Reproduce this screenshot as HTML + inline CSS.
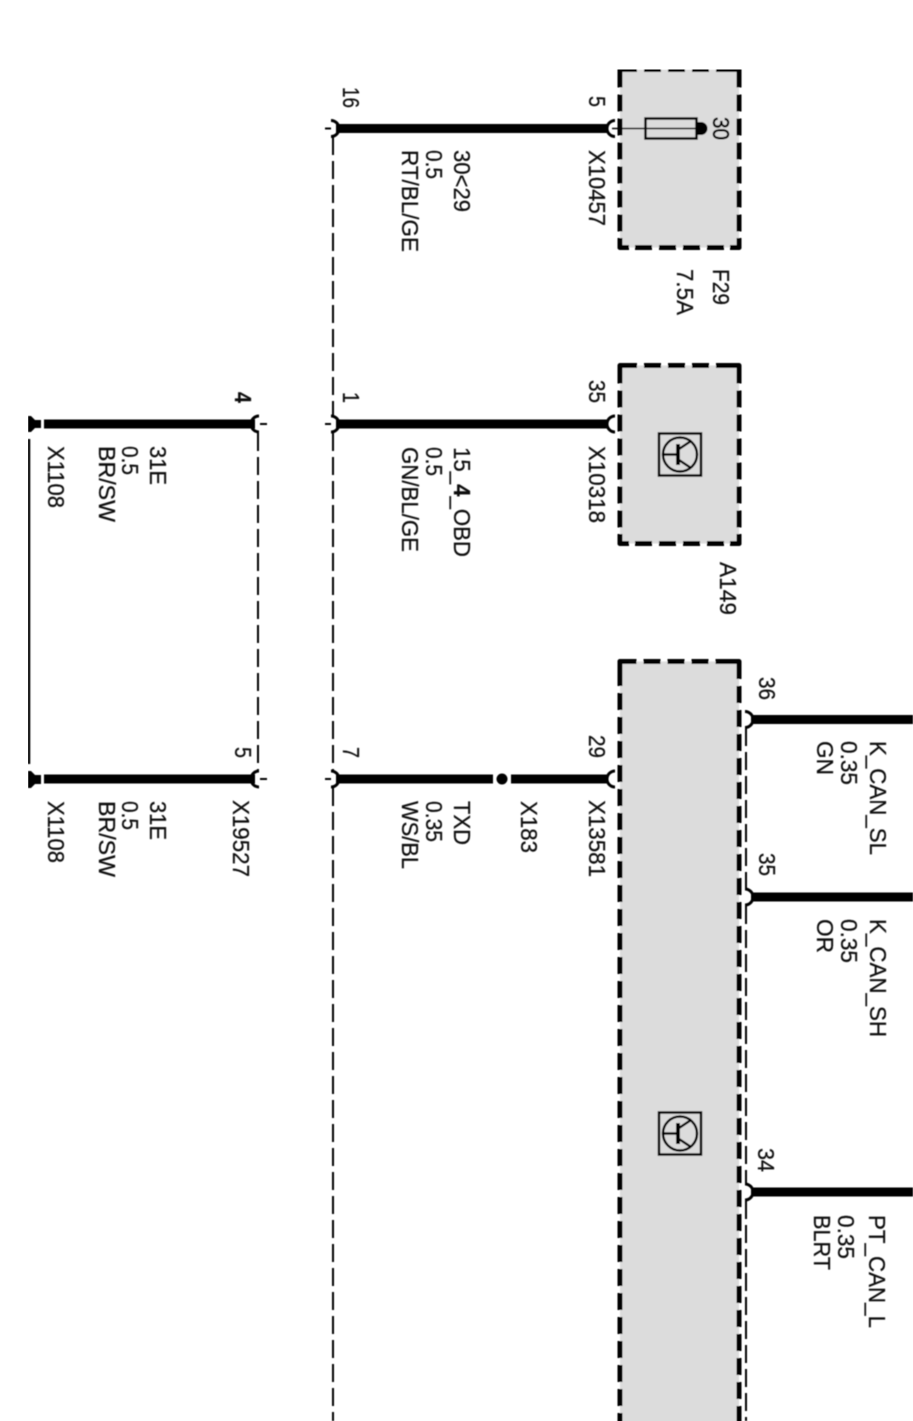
<!DOCTYPE html>
<html><head><meta charset="utf-8"><style>
html,body{margin:0;padding:0;background:#fff;width:913px;height:1421px;overflow:hidden}
svg{display:block}
text{font-family:"Liberation Sans",sans-serif;font-size:23px;fill:#111;stroke:#111;stroke-width:.25}
.w{stroke:#000;stroke-width:9;fill:none}
.t{stroke:#000;stroke-width:2;fill:none;stroke-dasharray:18 6}
.b{fill:#dcdcdc;stroke:#000;stroke-width:5;stroke-dasharray:17 7;stroke-linejoin:round}
.c{fill:none;stroke:#000;stroke-width:5;stroke-linejoin:round}
.a{stroke:#000;stroke-width:3;fill:none}
.s{stroke:#000;stroke-width:2.500;fill:none}
</style></head><body>
<svg width="913" height="1421" viewBox="0 0 913 1421" xmlns="http://www.w3.org/2000/svg">
<defs><filter id="f" x="0" y="0" width="100%" height="100%"><feGaussianBlur stdDeviation="0.45"/></filter></defs>
<g filter="url(#f)">
<!-- boxes -->
<rect class="b" x="620" y="69.500" width="119" height="178"/>
<path class="c" d="M620 78V69.500H629M730 69.500H739V78M739 238V247.500H730M629 247.500H620V238"/>
<rect class="b" x="620" y="365.500" width="119" height="178"/>
<path class="c" d="M620 374V365.500H629M730 365.500H739V374M739 534V543.500H730M629 543.500H620V534"/>
<path class="b" d="M620 1430V661.500H739V1430"/>
<path class="c" d="M620 670V661.500H629M730 661.500H739V670"/>
<!-- thin dashed -->
<path class="t" d="M333 137V415"/>
<path class="t" d="M333 433V770"/>
<path class="t" d="M333 788V1421"/>
<path class="t" d="M258 433V770"/>
<path class="t" d="M746 728V888"/>
<path class="t" d="M746 906V1183"/>
<path class="t" d="M746 1201V1421"/>
<path d="M29 439V764" stroke="#000" stroke-width="2.500"/>
<!-- thick wires -->
<path class="w" d="M336 128.500H608"/>
<path class="w" d="M336 424H608"/>
<path class="w" d="M336 779H493M511 779H608"/>
<path class="w" d="M44 424H255"/>
<path class="w" d="M44 779H255"/>
<path class="w" d="M751 719.500H913"/>
<path class="w" d="M751 897H913"/>
<path class="w" d="M751 1192H913"/>
<circle cx="502" cy="779" r="5.500" fill="#000"/>
<!-- terminals -->
<path class="a" d="M615 120.500A8 8 0 0 0 615 136.500"/>
<path class="a" d="M615 416A8 8 0 0 0 615 432"/>
<path class="a" d="M615 771A8 8 0 0 0 615 787"/>
<path class="a" d="M331 120.500A8 8 0 0 1 331 136.500"/>
<path class="a" d="M331 416A8 8 0 0 1 331 432"/>
<path class="a" d="M331 771A8 8 0 0 1 331 787"/>
<path class="a" d="M259 416A8 8 0 0 0 259 432"/>
<path class="a" d="M259 771A8 8 0 0 0 259 787"/>
<path class="a" d="M745 711.500A8 8 0 0 1 745 727.500"/>
<path class="a" d="M745 889A8 8 0 0 1 745 905"/>
<path class="a" d="M745 1184A8 8 0 0 1 745 1200"/>
<path d="M325 128.500h6M325 424h6M325 779h6M260 424h7M260 779h7" stroke="#000" stroke-width="2"/>
<!-- grounds -->
<path d="M28 416h3l4 4h6v8h-6l-4 4h-3z" fill="#000"/>
<path d="M28 771h3l4 4h6v9h-6l-4 4h-3z" fill="#000"/>
<!-- fuse -->
<rect x="645.500" y="118.500" width="51" height="20" fill="#dcdcdc" stroke="#000" stroke-width="2.500"/>
<path d="M612 128.500H699" stroke="#000" stroke-width="1.500"/>
<path d="M697 122h4a6.500 6.500 0 0 1 0 13h-4z" fill="#000"/>
<!-- transistors -->
<g>
<rect x="659" y="433.500" width="42" height="42" class="s"/>
<circle cx="680" cy="454.500" r="17" class="s"/>
<path d="M663 454.500H677" class="s"/>
<path d="M678 444V465" stroke="#000" stroke-width="4"/>
<path d="M679 449L691 441M679 460L691 468" class="s"/>
</g>
<g>
<rect x="659" y="1112.500" width="42" height="42" class="s"/>
<circle cx="680" cy="1133.500" r="17" class="s"/>
<path d="M663 1133.500H677" class="s"/>
<path d="M678 1123V1144" stroke="#000" stroke-width="4"/>
<path d="M679 1128L691 1120M679 1139L691 1147" class="s"/>
</g>
<!-- labels -->
<text transform="translate(343,87) rotate(90)" textLength="21" lengthAdjust="spacingAndGlyphs">16</text>
<text transform="translate(589,96) rotate(90)" textLength="11" lengthAdjust="spacingAndGlyphs">5</text>
<text transform="translate(713,117) rotate(90)" textLength="23" lengthAdjust="spacingAndGlyphs" style="fill:#000;stroke:#000;stroke-width:.6">30</text>
<text transform="translate(589,150) rotate(90)" textLength="76" lengthAdjust="spacingAndGlyphs">X10457</text>
<text transform="translate(454,150) rotate(90)" textLength="62" lengthAdjust="spacingAndGlyphs">30&lt;29</text>
<text transform="translate(426,150) rotate(90)" textLength="29" lengthAdjust="spacingAndGlyphs">0.5</text>
<text transform="translate(402,150) rotate(90)" textLength="102" lengthAdjust="spacingAndGlyphs">RT/BL/GE</text>
<text transform="translate(713,269) rotate(90)" textLength="36" lengthAdjust="spacingAndGlyphs">F29</text>
<text transform="translate(677,269) rotate(90)" textLength="46" lengthAdjust="spacingAndGlyphs">7.5A</text>

<text transform="translate(343,392) rotate(90)" textLength="11" lengthAdjust="spacingAndGlyphs">1</text>
<text transform="translate(589,380) rotate(90)" textLength="23" lengthAdjust="spacingAndGlyphs">35</text>
<text transform="translate(589,446) rotate(90)" textLength="77" lengthAdjust="spacingAndGlyphs">X10318</text>
<text transform="translate(454,447) rotate(90)" textLength="110" lengthAdjust="spacingAndGlyphs">15_<tspan font-weight="bold">4</tspan>_OBD</text>
<text transform="translate(426,447) rotate(90)" textLength="29" lengthAdjust="spacingAndGlyphs">0.5</text>
<text transform="translate(402,447) rotate(90)" textLength="105" lengthAdjust="spacingAndGlyphs">GN/BL/GE</text>
<text transform="translate(720,562) rotate(90)" textLength="53" lengthAdjust="spacingAndGlyphs">A149</text>

<text transform="translate(235,392) rotate(90)" textLength="11" lengthAdjust="spacingAndGlyphs" font-weight="bold">4</text>
<text transform="translate(150,446) rotate(90)" textLength="39" lengthAdjust="spacingAndGlyphs">31E</text>
<text transform="translate(122,446) rotate(90)" textLength="29" lengthAdjust="spacingAndGlyphs">0.5</text>
<text transform="translate(99,446) rotate(90)" textLength="76" lengthAdjust="spacingAndGlyphs">BR/SW</text>
<text transform="translate(48,446) rotate(90)" textLength="62" lengthAdjust="spacingAndGlyphs">X1108</text>

<text transform="translate(235,747) rotate(90)" textLength="11" lengthAdjust="spacingAndGlyphs">5</text>
<text transform="translate(233,800) rotate(90)" textLength="77" lengthAdjust="spacingAndGlyphs">X19527</text>
<text transform="translate(150,801) rotate(90)" textLength="39" lengthAdjust="spacingAndGlyphs">31E</text>
<text transform="translate(122,801) rotate(90)" textLength="29" lengthAdjust="spacingAndGlyphs">0.5</text>
<text transform="translate(99,801) rotate(90)" textLength="76" lengthAdjust="spacingAndGlyphs">BR/SW</text>
<text transform="translate(48,801) rotate(90)" textLength="62" lengthAdjust="spacingAndGlyphs">X1108</text>

<text transform="translate(343,747) rotate(90)" textLength="11" lengthAdjust="spacingAndGlyphs">7</text>
<text transform="translate(589,735) rotate(90)" textLength="23" lengthAdjust="spacingAndGlyphs">29</text>
<text transform="translate(589,800) rotate(90)" textLength="77" lengthAdjust="spacingAndGlyphs">X13581</text>
<text transform="translate(521,801) rotate(90)" textLength="52" lengthAdjust="spacingAndGlyphs">X183</text>
<text transform="translate(454,801) rotate(90)" textLength="44" lengthAdjust="spacingAndGlyphs">TXD</text>
<text transform="translate(426,801) rotate(90)" textLength="41" lengthAdjust="spacingAndGlyphs">0.35</text>
<text transform="translate(402,801) rotate(90)" textLength="68" lengthAdjust="spacingAndGlyphs">WS/BL</text>

<text transform="translate(759,677) rotate(90)" textLength="23" lengthAdjust="spacingAndGlyphs">36</text>
<text transform="translate(759,853) rotate(90)" textLength="23" lengthAdjust="spacingAndGlyphs">35</text>
<text transform="translate(758,1148) rotate(90)" textLength="24" lengthAdjust="spacingAndGlyphs">34</text>
<text transform="translate(870,741) rotate(90)" textLength="114" lengthAdjust="spacingAndGlyphs">K_CAN_SL</text>
<text transform="translate(841,741) rotate(90)" textLength="44" lengthAdjust="spacingAndGlyphs">0.35</text>
<text transform="translate(817,741) rotate(90)" textLength="34" lengthAdjust="spacingAndGlyphs">GN</text>
<text transform="translate(870,919) rotate(90)" textLength="118" lengthAdjust="spacingAndGlyphs">K_CAN_SH</text>
<text transform="translate(841,919) rotate(90)" textLength="44" lengthAdjust="spacingAndGlyphs">0.35</text>
<text transform="translate(817,919) rotate(90)" textLength="34" lengthAdjust="spacingAndGlyphs">OR</text>
<text transform="translate(869,1215) rotate(90)" textLength="113" lengthAdjust="spacingAndGlyphs">PT_CAN_L</text>
<text transform="translate(838,1215) rotate(90)" textLength="44" lengthAdjust="spacingAndGlyphs">0.35</text>
<text transform="translate(814,1215) rotate(90)" textLength="55" lengthAdjust="spacingAndGlyphs">BLRT</text>
</g>
</svg>
</body></html>
